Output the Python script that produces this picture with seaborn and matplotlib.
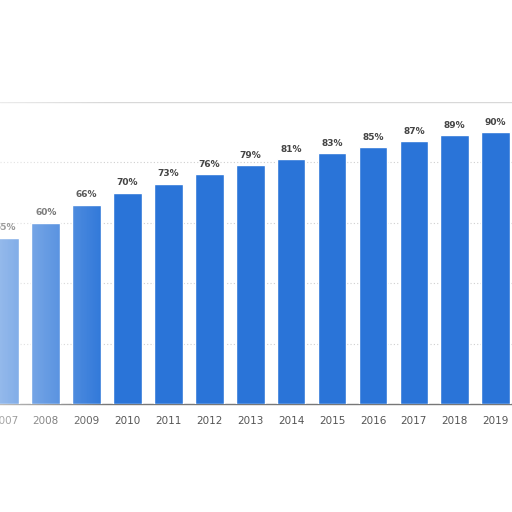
import matplotlib
matplotlib.use("Agg")
import matplotlib.pyplot as plt
import seaborn as sns
import numpy as np
import pandas as pd

years = ["2007", "2008", "2009", "2010", "2011", "2012", "2013",
         "2014", "2015", "2016", "2017", "2018", "2019"]
values = [55, 60, 66, 70, 73, 76, 79, 81, 83, 85, 87, 89, 90]
labels = [f"{v}%" for v in values]

sns.set_theme(style="white")
plt.rcParams['font.family'] = ['DejaVu Sans']

df = pd.DataFrame({"year": years, "value": values})

fig = plt.figure(figsize=(5.12, 5.12), dpi=100)
ax = fig.add_axes([0, 108/512, 1, 302/512])

sns.barplot(data=df, x="year", y="value", color="#2A74D8", width=0.70,
            saturation=1, ax=ax, zorder=3)

ax.set_ylim(0, 100)
ax.set_xlim(-0.12, 12.40)
for g in [20, 40, 60, 80]:
    ax.axhline(g, color="#cfcfcf", lw=0.8, ls=(0, (1, 2)), zorder=1)
ax.axhline(100, color="#d8d8d8", lw=1.0, zorder=1)

for s in ["top", "right", "left"]:
    ax.spines[s].set_visible(False)
ax.spines["bottom"].set_color("#777777")
ax.spines["bottom"].set_linewidth(1.0)

ax.set_yticks([])
ax.set_xlabel("")
ax.set_ylabel("")
ax.tick_params(axis="x", length=0, pad=9, labelsize=7.5, labelcolor="#555555")

for i, (v, t) in enumerate(zip(values, labels)):
    ax.annotate(t, (i, v), xytext=(0, 4), textcoords="offset points",
                ha="center", va="bottom", fontsize=6.5, fontweight="bold",
                color="#444444", zorder=4)

# faded left edge, like the reference
grad = np.linspace(0.5, 0.0, 256).reshape(1, -1)
rgba = np.ones((1, 256, 4))
rgba[..., 3] = grad
ov = fig.add_axes([0, 0, 110/512, 1], zorder=10)
ov.imshow(rgba, aspect="auto", extent=[0, 1, 0, 1])
ov.axis("off")

fig.savefig("out.png", dpi=100, facecolor="white")
